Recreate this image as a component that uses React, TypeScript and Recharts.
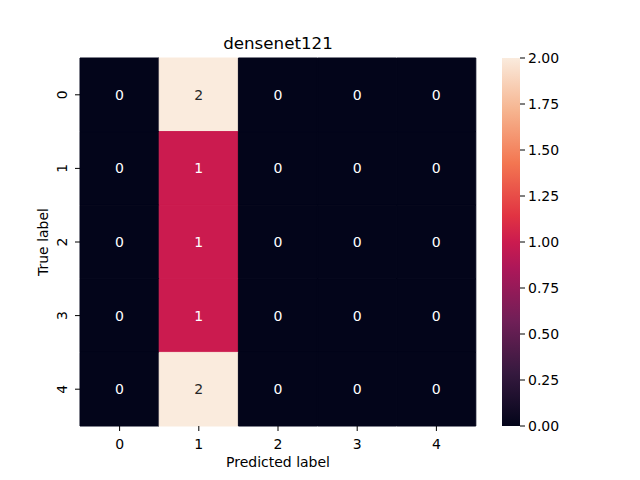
import React from 'react';
import { BarChart, Bar, XAxis, YAxis, Cell, LabelList } from 'recharts';

const predictedLabels = ['0', '1', '2', '3', '4'];
const trueLabels = ['0', '1', '2', '3', '4'];
// rows = true label, columns = predicted label
const matrix = [
  [0, 2, 0, 0, 0],
  [0, 1, 0, 0, 0],
  [0, 1, 0, 0, 0],
  [0, 1, 0, 0, 0],
  [0, 2, 0, 0, 0],
];
const colorbarTicks = [0, 0.25, 0.5, 0.75, 1, 1.25, 1.5, 1.75, 2];
const vmin = 0;
const vmax = 2;

// rocket colormap stops
const rocketStops: [number, string][] = [
  [0.0, '#03051a'],
  [0.143, '#35193e'],
  [0.286, '#701f57'],
  [0.429, '#ad1759'],
  [0.5, '#cb1b4f'],
  [0.571, '#e13342'],
  [0.714, '#f37651'],
  [0.857, '#f6b48f'],
  [1.0, '#faebdd'],
];

function hexToRgb(h: string) {
  return [parseInt(h.slice(1, 3), 16), parseInt(h.slice(3, 5), 16), parseInt(h.slice(5, 7), 16)];
}
function rocket(t: number) {
  t = Math.max(0, Math.min(1, t));
  for (let i = 0; i < rocketStops.length - 1; i++) {
    const [t0, c0] = rocketStops[i];
    const [t1, c1] = rocketStops[i + 1];
    if (t >= t0 && t <= t1) {
      const f = (t - t0) / (t1 - t0 || 1);
      const a = hexToRgb(c0);
      const b = hexToRgb(c1);
      const c = a.map((v, k) => Math.round(v + (b[k] - v) * f));
      return `rgb(${c[0]},${c[1]},${c[2]})`;
    }
  }
  return rocketStops[rocketStops.length - 1][1];
}
const colorFor = (v: number) => rocket((v - vmin) / (vmax - vmin));
const textColorFor = (v: number) => ((v - vmin) / (vmax - vmin) > 0.6 ? '#262626' : '#ffffff');

const chartData = predictedLabels.map((p, j) => {
  const o: any = { pred: p };
  trueLabels.forEach((_, i) => {
    o[`row${i}`] = 1;
    o[`val${i}`] = matrix[i][j];
  });
  return o;
});

const FONT = 'DejaVu Sans, sans-serif';

const YTick = (props: any) => {
  const { x, y, payload } = props;
  const cx = x - 11;
  return (
    <text
      x={cx}
      y={y}
      transform={`rotate(-90, ${cx}, ${y})`}
      textAnchor="middle"
      dominantBaseline="central"
      fontSize={14}
      fontFamily={FONT}
      fill="#000"
    >
      {trueLabels[Math.floor(payload.value)]}
    </text>
  );
};

const XTick = (props: any) => {
  const { x, y, payload } = props;
  return (
    <text x={x} y={y + 11} textAnchor="middle" dominantBaseline="central" fontSize={14} fontFamily={FONT} fill="#000">
      {payload.value}
    </text>
  );
};

const CbTick = (props: any) => {
  const { x, y, payload } = props;
  return (
    <text x={x + 1} y={y} textAnchor="start" dominantBaseline="central" fontSize={14} fontFamily={FONT} fill="#000">
      {Number(payload.value).toFixed(2)}
    </text>
  );
};

export default function App() {
  return (
    <div style={{ position: 'absolute', left: 0, top: 0, width: 640, height: 480, background: '#fff' }}>
      <div style={{ position: 'absolute', left: 0, top: 0 }}>
        <BarChart
          width={640}
          height={480}
          data={chartData}
          margin={{ top: 58, right: 164, bottom: 24, left: 40 }}
          barCategoryGap={0}
          barGap={0}
        >
          <XAxis
            dataKey="pred"
            type="category"
            axisLine={false}
            tickSize={5}
            tickLine={{ stroke: '#000' }}
            tick={<XTick />}
            height={30}
            interval={0}
            label={(p: any) => {
              const vb = p.viewBox;
              return (
                <text
                  x={vb.x + vb.width / 2}
                  y={462}
                  textAnchor="middle"
                  dominantBaseline="central"
                  fontSize={14}
                  fontFamily={FONT}
                  fill="#000"
                >
                  Predicted label
                </text>
              );
            }}
          />
          <YAxis
            type="number"
            domain={[0, 5]}
            reversed
            ticks={[0.5, 1.5, 2.5, 3.5, 4.5]}
            interval={0}
            axisLine={false}
            tickSize={5}
            tickLine={{ stroke: '#000' }}
            tick={<YTick />}
            width={40}
            label={(p: any) => {
              const vb = p.viewBox;
              const cy = vb.y + vb.height / 2;
              return (
                <text
                  x={43}
                  y={cy}
                  transform={`rotate(-90, 43, ${cy})`}
                  textAnchor="middle"
                  dominantBaseline="central"
                  fontSize={14}
                  fontFamily={FONT}
                  fill="#000"
                >
                  True label
                </text>
              );
            }}
          />
          {trueLabels.map((t, i) => (
            <Bar key={t} dataKey={`row${i}`} stackId="a" isAnimationActive={false}>
              {chartData.map((d, j) => (
                <Cell key={j} fill={colorFor(matrix[i][j])} stroke={colorFor(matrix[i][j])} strokeWidth={1} />
              ))}
              <LabelList
                dataKey={`val${i}`}
                content={(p: any) => {
                  const { x, y, width, height, value } = p;
                  return (
                    <text
                      x={x + width / 2}
                      y={y + height / 2}
                      textAnchor="middle"
                      dominantBaseline="central"
                      fontSize={14}
                      fontFamily={FONT}
                      fill={textColorFor(value)}
                    >
                      {value}
                    </text>
                  );
                }}
              />
            </Bar>
          ))}
        </BarChart>
      </div>
      <div style={{ position: 'absolute', left: 0, top: 0 }}>
        <BarChart
          width={640}
          height={480}
          data={[{ name: 'cb', v: vmax }]}
          margin={{ top: 58, right: 60, bottom: 54, left: 502 }}
          barCategoryGap={0}
        >
          <defs>
            <linearGradient id="rocketGrad" x1="0" y1="1" x2="0" y2="0">
              {rocketStops.map(([o, c]) => (
                <stop key={o} offset={`${o * 100}%`} stopColor={c} />
              ))}
            </linearGradient>
          </defs>
          <XAxis dataKey="name" hide />
          <YAxis
            orientation="right"
            type="number"
            domain={[vmin, vmax]}
            ticks={colorbarTicks}
            interval={0}
            axisLine={false}
            tickSize={5}
            tickLine={{ stroke: '#000' }}
            tick={<CbTick />}
            width={60}
          />
          <Bar dataKey="v" fill="url(#rocketGrad)" isAnimationActive={false} />
        </BarChart>
      </div>
      <svg width={640} height={480} style={{ position: 'absolute', left: 0, top: 0, pointerEvents: 'none' }}>
        <text x={278} y={43} textAnchor="middle" dominantBaseline="central" fontSize={16.7} fontFamily={FONT} fill="#000">
          densenet121
        </text>
      </svg>
    </div>
  );
}
